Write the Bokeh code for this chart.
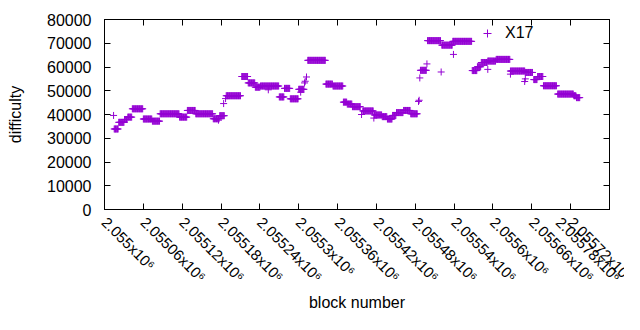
import math
from bokeh.plotting import figure
from bokeh.models import (LinearAxis, FixedTicker, Range1d, Legend, LegendItem,
                          ColumnDataSource)
from bokeh.embed import file_html
from bokeh.resources import INLINE

# ---------------- data ----------------
# runs of consecutive blocks that share one difficulty value
run_start = [2055015, 2055022, 2055031, 2055036, 2055043, 2055060, 2055074, 2055086,
             2055116, 2055128, 2055141, 2055168, 2055178, 2055188, 2055212, 2055222,
             2055233, 2055241, 2055270, 2055278, 2055287, 2055300, 2055314, 2055342,
             2055353, 2055369, 2055375, 2055383, 2055399, 2055417, 2055429, 2055437,
             2055445, 2055451, 2055462, 2055473, 2055488, 2055499, 2055521, 2055538,
             2055568, 2055576, 2055582, 2055592, 2055605, 2055627, 2055650, 2055663,
             2055669, 2055678, 2055700, 2055725, 2055729]
run_end = [2055021, 2055030, 2055035, 2055042, 2055059, 2055073, 2055085, 2055115,
           2055127, 2055140, 2055167, 2055177, 2055185, 2055210, 2055221, 2055232,
           2055240, 2055269, 2055277, 2055286, 2055299, 2055308, 2055341, 2055352,
           2055368, 2055374, 2055382, 2055395, 2055415, 2055428, 2055436, 2055444,
           2055450, 2055461, 2055472, 2055483, 2055497, 2055519, 2055537, 2055567,
           2055575, 2055581, 2055591, 2055604, 2055626, 2055649, 2055661, 2055668,
           2055677, 2055698, 2055724, 2055728, 2055734]
run_value = [33900, 36700, 37900, 38900, 42400, 38100, 37200, 40300,
             38900, 41700, 40300, 38200, 39500, 47900, 56000, 53300,
             51500, 52000, 47400, 51000, 46600, 50600, 62800, 52800,
             52000, 45200, 44400, 43300, 41500, 39800, 39100, 38100,
             39600, 40800, 41700, 40300, 58600, 71100, 69200, 70800,
             58500, 60100, 61900, 62500, 63200, 58300, 57700, 54700,
             56000, 52100, 48600, 47900, 47100]
# isolated blocks
single_block = [2055014, 2055176, 2055184, 2055187, 2055253, 2055303, 2055309,
                2055310, 2055312, 2055397, 2055416, 2055485, 2055486, 2055487,
                2055498, 2055520, 2055539, 2055592, 2055627, 2055649, 2055650]
single_value = [39600, 37600, 44600, 46700, 50400, 49400, 53300,
                54000, 55800, 40000, 38500, 45500, 46000, 55400,
                61300, 57900, 65300, 59000, 57000, 53900, 55000]

x_ticks = [2055000, 2055060, 2055120, 2055180, 2055240, 2055300, 2055360,
           2055420, 2055480, 2055540, 2055600, 2055660, 2055720, 2055780]
x_tick_labels = ["2.055x10⁶", "2.05506x10⁶", "2.05512x10⁶", "2.05518x10⁶",
                 "2.05524x10⁶", "2.0553x10⁶", "2.05536x10⁶", "2.05542x10⁶",
                 "2.05548x10⁶", "2.05554x10⁶", "2.0556x10⁶", "2.05566x10⁶",
                 "2.05572x10⁶", "2.05578x10⁶"]
y_ticks = [0, 10000, 20000, 30000, 40000, 50000, 60000, 70000, 80000]
y_tick_labels = ["0", "10000", "20000", "30000", "40000", "50000", "60000",
                 "70000", "80000"]
series_name = "X17"

# ---------------- build the point table ----------------
xs, ys = [], []
for s, e, v in zip(run_start, run_end, run_value):
    blocks = list(range(s, e + 1))
    xs.extend(blocks)
    ys.extend([v] * len(blocks))
xs.extend(single_block)
ys.extend(single_value)
src = ColumnDataSource(data=dict(x=xs, y=ys))

FONT = "Liberation Sans"
COLOR = "#9400D3"

p = figure(width=624, height=314, output_backend="svg", toolbar_location=None,
           x_range=Range1d(x_ticks[0], x_ticks[-1]),
           y_range=Range1d(y_ticks[0], y_ticks[-1]),
           min_border_left=104, min_border_right=15,
           min_border_top=19, min_border_bottom=103)
p.background_fill_color = "white"
p.border_fill_color = "white"
p.outline_line_color = "black"
p.outline_line_width = 1
p.outline_line_alpha = 1
p.grid.visible = False

r = p.scatter(x="x", y="y", source=src, marker="cross", size=7,
              line_color=COLOR, line_width=1)

def style_axis(ax, ticks, labels=None, size="16px"):
    ax.ticker = FixedTicker(ticks=ticks)
    ax.major_tick_in = 6
    ax.major_tick_out = 0
    ax.minor_tick_line_color = None
    ax.major_tick_line_color = "black"
    ax.axis_line_color = "black"
    if labels is not None:
        ax.major_label_overrides = {t: l for t, l in zip(ticks, labels)}
        ax.major_label_text_font = FONT
        ax.major_label_text_font_size = size
        ax.major_label_text_color = "black"
    else:
        # mirror ticks only, no labels
        ax.major_label_text_color = None
        ax.major_label_standoff = 0
    ax.axis_label_text_font = FONT
    ax.axis_label_text_font_size = "16px"
    ax.axis_label_text_font_style = "normal"
    ax.axis_label_text_color = "black"

xa = p.xaxis[0]
style_axis(xa, x_ticks, x_tick_labels, size="15px")
xa.major_label_orientation = -math.pi / 4
xa.major_label_standoff = 10
xa.axis_label = "block number"
xa.axis_label_standoff = 0

ya = p.yaxis[0]
style_axis(ya, y_ticks, y_tick_labels)
ya.major_label_standoff = 13
ya.axis_label = "difficulty"
ya.axis_label_standoff = 20

top = LinearAxis()
style_axis(top, x_ticks)
p.add_layout(top, "above")
right = LinearAxis()
style_axis(right, y_ticks)
p.add_layout(right, "right")

legend = Legend(items=[LegendItem(label=series_name, renderers=[r])],
                location=(373, 166), padding=0, margin=0, spacing=0,
                glyph_width=20, glyph_height=20, label_standoff=8,
                label_text_font=FONT, label_text_font_size="16px",
                label_text_color="black", border_line_color=None,
                background_fill_alpha=0)
p.add_layout(legend)

open("out.html", "w").write(file_html(p, INLINE))
